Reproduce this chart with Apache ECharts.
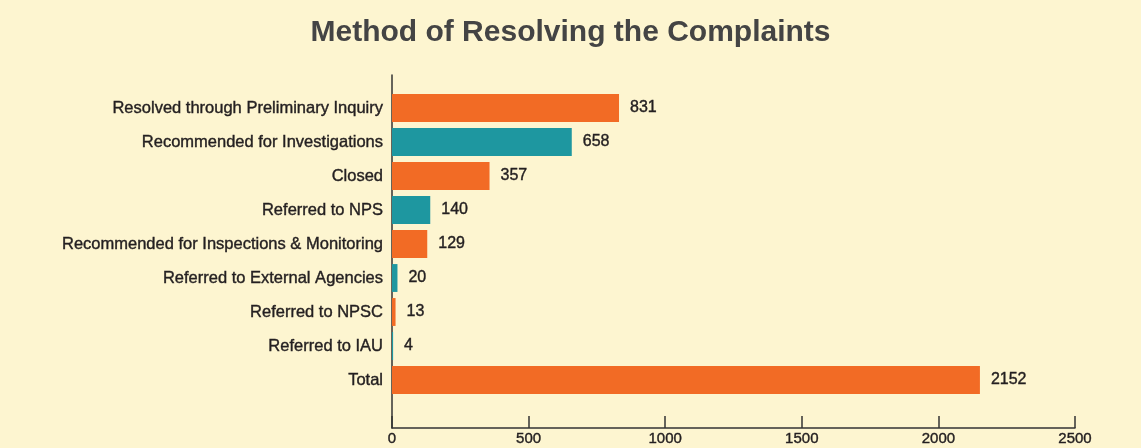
<!DOCTYPE html>
<html>
<head>
<meta charset="utf-8">
<script src="https://cdn.jsdelivr.net/npm/echarts@6/dist/echarts.min.js"></script>
<style>
  html, body { margin: 0; padding: 0; background: #fdf5d0; }
  #chart { width: 1141px; height: 448px; }
</style>
</head>
<body>
<div id="chart"></div>
<script>
// categories, top to bottom
const categories = [
  'Resolved through Preliminary Inquiry',
  'Recommended for Investigations',
  'Closed',
  'Referred to NPS',
  'Recommended for Inspections & Monitoring',
  'Referred to External Agencies',
  'Referred to NPSC',
  'Referred to IAU',
  'Total'
]
const values = [831, 658, 357, 140, 129, 20, 13, 4, 2152]
const xTicks = [0, 500, 1000, 1500, 2000, 2500]

const ORANGE = '#f26b25'
const TEAL = '#1e97a0'
const TEXT = '#231f20'
const barColor = (i) => (i === categories.length - 1 || i % 2 === 0) ? ORANGE : TEAL

// slightly heavier text, like a medium weight
const medium = { textBorderColor: TEXT, textBorderWidth: 0.4 }

const chart = echarts.init(document.getElementById('chart'))

const option = {
  backgroundColor: '#fdf5d0',
  animation: false,
  textStyle: { fontFamily: 'Liberation Sans, Arial, sans-serif' },
  title: {
    text: 'Method of Resolving the Complaints',
    left: 'center',
    top: 13,
    textStyle: { fontSize: 30, fontWeight: 'bold', color: '#444444' }
  },
  grid: [
    // bars
    { left: 392, right: 66, top: 91, height: 306 },
    // axis frame
    { left: 392, right: 66, top: 75, bottom: 20 }
  ],
  xAxis: [
    {
      gridIndex: 0, type: 'value', min: xTicks[0], max: xTicks[xTicks.length - 1], interval: 500,
      show: false
    },
    {
      gridIndex: 1, type: 'value', min: xTicks[0], max: xTicks[xTicks.length - 1], interval: 500,
      axisLine: { show: true, lineStyle: { color: '#333333', width: 1.5 } },
      axisTick: { show: true, inside: true, length: 12, lineStyle: { color: '#333333', width: 1.5 } },
      axisLabel: { color: TEXT, fontSize: 15, margin: 3, formatter: (v) => String(v), ...medium },
      splitLine: { show: false }
    }
  ],
  yAxis: [
    {
      gridIndex: 0, type: 'category', inverse: true, data: categories,
      axisLine: { show: false },
      axisTick: { show: false },
      axisLabel: { color: TEXT, fontSize: 16.5, margin: 9, ...medium }
    },
    {
      gridIndex: 1, type: 'value', min: 0, max: 1,
      axisLine: { show: true, lineStyle: { color: '#333333', width: 1.5 } },
      axisTick: { show: false },
      axisLabel: { show: false },
      splitLine: { show: false }
    }
  ],
  series: [
    {
      type: 'bar',
      xAxisIndex: 0,
      yAxisIndex: 0,
      barCategoryGap: '18%',
      data: values.map((v, i) => ({ value: v, itemStyle: { color: barColor(i) } })),
      label: {
        show: true,
        position: 'right',
        distance: 11,
        color: TEXT,
        fontSize: 16,
        ...medium
      }
    }
  ]
}

chart.setOption(option)
</script>
</body>
</html>
